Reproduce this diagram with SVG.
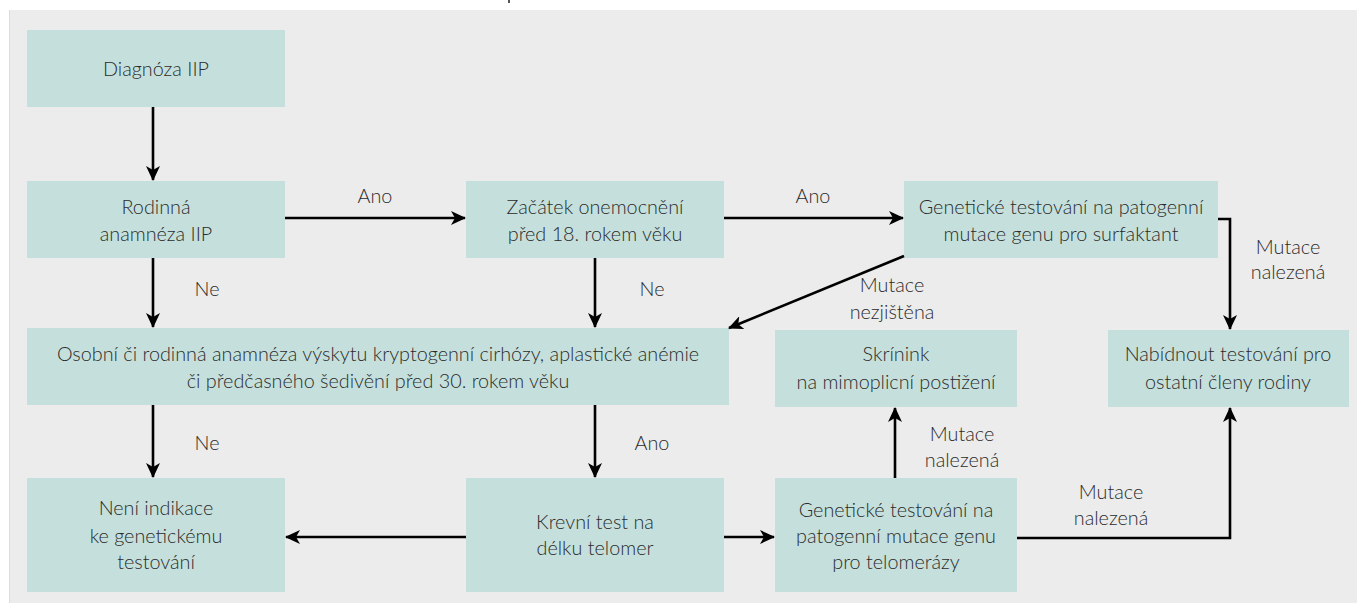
<svg xmlns="http://www.w3.org/2000/svg" width="1357" height="603" viewBox="0 0 1357 603">
<style>
  .box { fill: #c5e0dc; }
  text { font-family: Lato, "Open Sans", "Liberation Sans", sans-serif; font-size: 19.8px; font-weight: 300; fill: #2b2b2b; text-anchor: middle; }
  .conn { stroke: #000; stroke-width: 2.6; fill: none; }
</style>
<defs>
  <marker id="ah" markerUnits="userSpaceOnUse" markerWidth="16" markerHeight="14" refX="14" refY="7" orient="auto">
    <path d="M0,0 L15,7 L0,14 L4,7 z" fill="#000"/>
  </marker>
</defs>
<rect x="0" y="0" width="1357" height="603" fill="#ffffff"/>
<rect x="9" y="10" width="1348" height="593" fill="#ececec"/>
<line x1="9.5" y1="10" x2="9.5" y2="603" stroke="#dddddd" stroke-width="1"/>
<rect x="508" y="0" width="2" height="3" fill="#555"/>

<g id="n-diagnoza"><rect class="box" x="27" y="30" width="258" height="77"/><text x="156" y="76">Diagnóza IIP</text></g>
<g id="n-rodinna"><rect class="box" x="27" y="181" width="258" height="77"/><text x="156" y="214">Rodinná</text><text x="156" y="241">anamnéza IIP</text></g>
<g id="n-zacatek"><rect class="box" x="466" y="181" width="258" height="77"/><text x="595" y="214">Začátek onemocnění</text><text x="595" y="241">před 18. rokem věku</text></g>
<g id="n-surf"><rect class="box" x="904" y="181" width="314" height="77"/><text x="1061" y="214">Genetické testování na patogenní</text><text x="1061" y="241">mutace genu pro surfaktant</text></g>
<g id="n-osobni"><rect class="box" x="27" y="328" width="702" height="77"/><text x="378" y="361">Osobní či rodinná anamnéza výskytu kryptogenní cirhózy, aplastické anémie</text><text x="378" y="388">či předčasného šedivění před 30. rokem věku</text></g>
<g id="n-skrinink"><rect class="box" x="775" y="330" width="242" height="77"/><text x="896" y="361">Skrínink</text><text x="896" y="389">na mimoplicní postižení</text></g>
<g id="n-nabidnout"><rect class="box" x="1108" y="330" width="241" height="77"/><text x="1228" y="361">Nabídnout testování pro</text><text x="1228" y="389">ostatní členy rodiny</text></g>
<g id="n-neni"><rect class="box" x="27" y="478" width="258" height="114"/><text x="156" y="515">Není indikace</text><text x="156" y="543">ke genetickému</text><text x="156" y="569">testování</text></g>
<g id="n-krevni"><rect class="box" x="466" y="478" width="258" height="114"/><text x="595" y="529">Krevní test na</text><text x="595" y="555">délku telomer</text></g>
<g id="n-telo"><rect class="box" x="775" y="478" width="242" height="114"/><text x="896" y="517">Genetické testování na</text><text x="896" y="543">patogenní mutace genu</text><text x="896" y="569">pro telomerázy</text></g>

<g id="connectors">
  <line class="conn" x1="153" y1="107" x2="153" y2="180" marker-end="url(#ah)"/>
  <line class="conn" x1="285" y1="218" x2="465" y2="218" marker-end="url(#ah)"/>
  <line class="conn" x1="724" y1="218" x2="903" y2="218" marker-end="url(#ah)"/>
  <path class="conn" d="M1218,219 H1230 V329" marker-end="url(#ah)"/>
  <line class="conn" x1="153" y1="258" x2="153" y2="327" marker-end="url(#ah)"/>
  <line class="conn" x1="595" y1="258" x2="595" y2="327" marker-end="url(#ah)"/>
  <line class="conn" x1="904" y1="256" x2="729" y2="328" marker-end="url(#ah)"/>
  <line class="conn" x1="153" y1="405" x2="153" y2="477" marker-end="url(#ah)"/>
  <line class="conn" x1="595" y1="405" x2="595" y2="477" marker-end="url(#ah)"/>
  <line class="conn" x1="466" y1="537" x2="286" y2="537" marker-end="url(#ah)"/>
  <line class="conn" x1="724" y1="537" x2="774" y2="537" marker-end="url(#ah)"/>
  <line class="conn" x1="895" y1="478" x2="895" y2="408" marker-end="url(#ah)"/>
  <path class="conn" d="M1017,538 H1230 V408" marker-end="url(#ah)"/>
  <text x="375" y="203">Ano</text>
  <text x="813" y="203">Ano</text>
  <text x="207" y="296">Ne</text>
  <text x="652" y="296">Ne</text>
  <text x="1288" y="254">Mutace</text>
  <text x="1288" y="279">nalezená</text>
  <text x="892" y="292">Mutace</text>
  <text x="892" y="319">nezjištěna</text>
  <text x="207" y="450">Ne</text>
  <text x="652" y="450">Ano</text>
  <text x="962" y="441">Mutace</text>
  <text x="962" y="467">nalezená</text>
  <text x="1111" y="499">Mutace</text>
  <text x="1111" y="525">nalezená</text>
</g>
</svg>
